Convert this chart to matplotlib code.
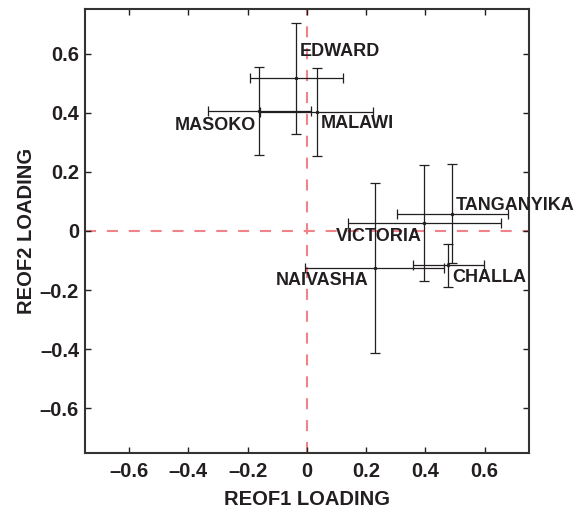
import numpy as np
import matplotlib.pyplot as plt

plt.rcParams['font.family'] = ['Liberation Sans', 'DejaVu Sans']
plt.rcParams['font.weight'] = 'bold'

# lake loadings on the two rotated EOFs
lakes = ['EDWARD', 'MASOKO', 'MALAWI', 'NAIVASHA', 'VICTORIA', 'TANGANYIKA', 'CHALLA']
reof1 = [-0.035, -0.160, 0.033, 0.229, 0.397, 0.491, 0.477]
reof2 = [0.516, 0.407, 0.402, -0.126, 0.026, 0.058, -0.117]
reof1_err = [0.156, 0.174, 0.190, 0.235, 0.259, 0.188, 0.120]
reof2_err = [0.187, 0.149, 0.148, 0.287, 0.196, 0.168, 0.072]

ticks = [-0.6, -0.4, -0.2, 0, 0.2, 0.4, 0.6]
tick_labels = ['\u20130.6', '\u20130.4', '\u20130.2', '0', '0.2', '0.4', '0.6']

# label placement (x, y, ha)
label_pos = {
    'EDWARD': (-0.024, 0.606, 'left'),
    'MASOKO': (-0.170, 0.358, 'right'),
    'MALAWI': (0.048, 0.365, 'left'),
    'NAIVASHA': (0.053, -0.169, 'center'),
    'VICTORIA': (0.242, -0.018, 'center'),
    'TANGANYIKA': (0.504, 0.085, 'left'),
    'CHALLA': (0.490, -0.156, 'left'),
}

txt = '#231f20'
red = '#f0828a'

fig = plt.figure(figsize=(5.8, 5.12), dpi=100)
ax = fig.add_axes([0.146, 0.116, 0.766, 0.866])

ax.axhline(0, color=red, lw=1.5, ls=(0, (5.3, 5.2)), zorder=1)
ax.axvline(0, color=red, lw=1.5, ls=(0, (5.3, 5.2)), zorder=1)

ax.errorbar(reof1, reof2, xerr=reof1_err, yerr=reof2_err, fmt='o', ms=1.5,
            color=txt, ecolor=txt, elinewidth=0.9, capsize=3.5,
            capthick=0.9, zorder=3)

for name in lakes:
    lx, ly, ha = label_pos[name]
    ax.text(lx, ly, name, ha=ha, va='center', fontsize=13,
            fontweight='bold', color=txt)

ax.set_xlim(-0.75, 0.75)
ax.set_ylim(-0.75, 0.75)
ax.set_xticks(ticks)
ax.set_xticklabels(tick_labels)
ax.set_yticks(ticks)
ax.set_yticklabels(tick_labels)
ax.tick_params(direction='in', top=True, right=True, length=4, width=1,
               labelsize=14.5, colors=txt)
ax.tick_params(axis='x', pad=7)
ax.tick_params(axis='y', pad=4)
for s in ax.spines.values():
    s.set_linewidth(1.5)
    s.set_color('#333333')

ax.set_xlabel('REOF1 LOADING', fontsize=14.5, fontweight='bold', color=txt, labelpad=6)
ax.set_ylabel('REOF2 LOADING', fontsize=14.5, fontweight='bold', color=txt, labelpad=3)

plt.savefig('out.png', dpi=100)
